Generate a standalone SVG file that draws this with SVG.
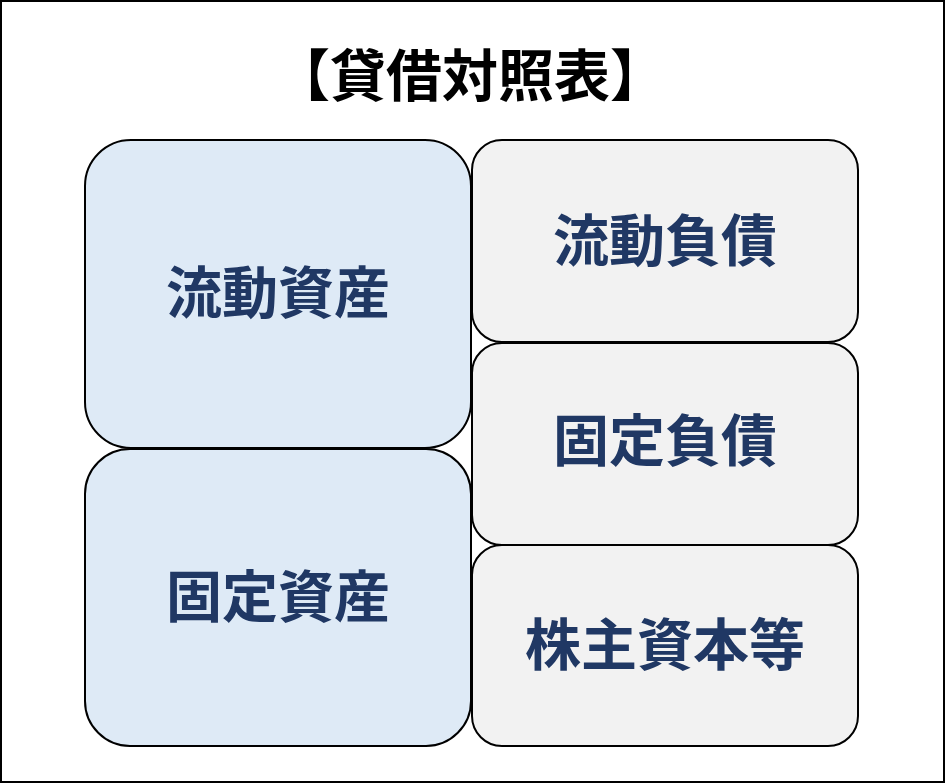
<svg xmlns="http://www.w3.org/2000/svg" width="945" height="783" viewBox="0 0 945 783">
<style>
.box{stroke:#000;stroke-width:2}
.a{fill:#DEEAF6}
.l{fill:#F2F2F2}
.t{font-family:"Noto Sans CJK JP","Noto Sans CJK SC",sans-serif;font-weight:bold;font-size:56px;fill:#203864;text-anchor:middle;dominant-baseline:central}
.title{font-family:"Noto Sans CJK JP","Noto Sans CJK SC",sans-serif;font-weight:bold;font-size:56px;fill:#000;text-anchor:middle;dominant-baseline:central}
</style>
<rect x="1" y="1" width="943" height="781" fill="#fff" stroke="#000" stroke-width="2"/>
<g id="title"><text class="title" x="470" y="71">【貸借対照表】</text></g>
<g id="current-assets"><rect class="box a" x="85" y="140" width="386" height="308" rx="46" ry="46"/><text class="t" x="278" y="288">流動資産</text></g>
<g id="fixed-assets"><rect class="box a" x="85" y="449" width="386" height="297" rx="45" ry="45"/><text class="t" x="278" y="592">固定資産</text></g>
<g id="current-liabilities"><rect class="box l" x="472" y="140" width="386" height="202" rx="30" ry="30"/><text class="t" x="665" y="236">流動負債</text></g>
<g id="fixed-liabilities"><rect class="box l" x="472" y="343" width="386" height="202" rx="30" ry="30"/><text class="t" x="665" y="436">固定負債</text></g>
<g id="equity"><rect class="box l" x="472" y="545" width="386" height="201" rx="30" ry="30"/><text class="t" x="665" y="640">株主資本等</text></g>
<g id="connectors"></g>
</svg>
